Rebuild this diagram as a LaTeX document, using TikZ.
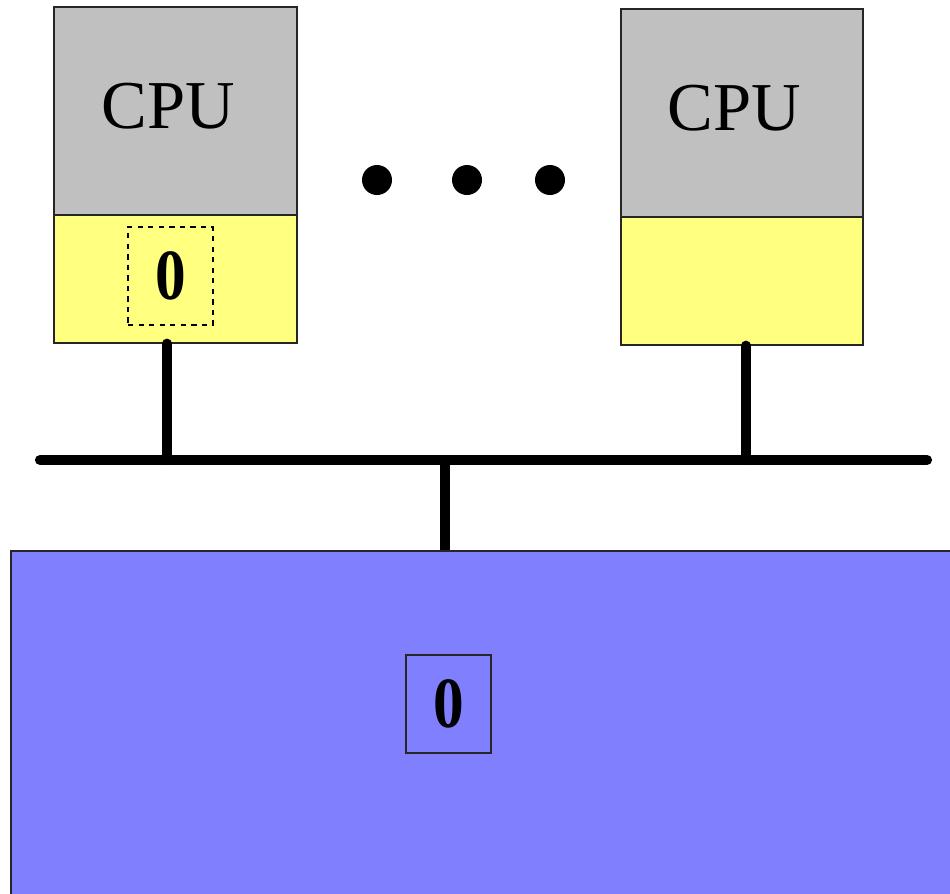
\documentclass[tikz,border=0pt]{standalone}
\usepackage{fontspec}
\setmainfont{Liberation Serif}
\begin{document}
\begin{tikzpicture}[x=0.02cm,y=-0.02cm,
  box/.style={draw=black!85,line width=0.8pt,inner sep=0pt,rectangle},
  cpubox/.style={box,fill=cpugray,minimum height=4.16cm},
  cpulabel/.style={inner sep=0pt,font=\fontsize{39}{41}\selectfont},
  cachebox/.style={box,fill=cacheyellow,minimum height=2.56cm},
  word/.style={rectangle,inner sep=0pt,minimum width=1.7cm,minimum height=1.96cm,
    font=\fontsize{41}{43}\selectfont\bfseries},
  wire/.style={line width=5.8pt,line cap=round},
  dot/.style={circle,fill=black,inner sep=0pt,minimum size=0.6cm}]
\definecolor{cpugray}{HTML}{C0C0C0}
\definecolor{cacheyellow}{HTML}{FFFF80}
\definecolor{memblue}{HTML}{8080FF}
\useasboundingbox (0,0) rectangle (950,893);

% processors with their caches
\node[cpubox,minimum width=4.86cm] (cpuL) at (175.5,111) {};
\node[cpulabel] (cpuLtext) at (168,106) {CPU};
\node[cachebox,minimum width=4.86cm] (cacheL) at (175.5,279) {};
\node[word,draw,dashed,line width=0.6pt] (wordL) at (170.5,276) {\scalebox{0.85}[1]{0}};

\node[cpubox,minimum width=4.84cm] (cpuR) at (742,113) {};
\node[cpulabel] (cpuRtext) at (734,108) {CPU};
\node[cachebox,minimum width=4.84cm] (cacheR) at (742,281) {};

% ellipsis between processors
\node[dot] (d1) at (377,180) {};
\node[dot] (d2) at (467,180) {};
\node[dot] (d3) at (550,180) {};

% main memory
\node[box,fill=memblue,minimum width=18.98cm,minimum height=7.18cm] (mem) at (485.5,730.5) {};
\node[word,draw=black!85,line width=0.8pt] (wordM) at (448.5,704) {\scalebox{0.85}[1]{0}};

% shared bus
\coordinate (busL) at (40,460);
\coordinate (busR) at (927,460);
\coordinate (j1) at (167,460);
\coordinate (j2) at (746,460);
\coordinate (j3) at (445,460);
\draw[wire] (busL) -- (busR);
\draw[wire] (j1 |- cacheL.south) -- (j1);
\draw[wire] (j2 |- cacheR.south) -- (j2);
\draw[wire,line cap=butt] (j3) -- (j3 |- mem.north);
\end{tikzpicture}
\end{document}
